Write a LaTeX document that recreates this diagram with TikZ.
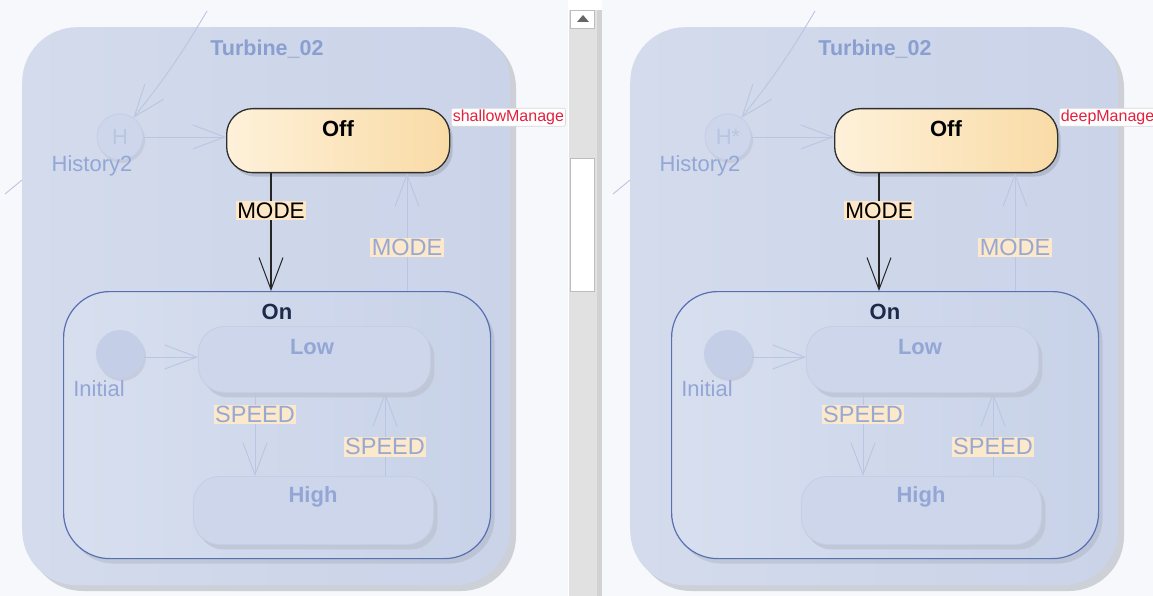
\documentclass[tikz,border=0pt]{standalone}
\usepackage{fontspec}
\setmainfont{Liberation Sans}
\usetikzlibrary{arrows.meta,shadows}
\definecolor{pagebg}{HTML}{F7F8FC}
\definecolor{outerL}{HTML}{D3DBEC}
\definecolor{outerR}{HTML}{CAD3E8}
\definecolor{outershadow}{HTML}{CDD0D7}
\definecolor{titlecol}{HTML}{8A9FD0}
\definecolor{offL}{HTML}{FEF1DA}
\definecolor{offR}{HTML}{F9DBA6}
\definecolor{offborder}{HTML}{2E2E2E}
\definecolor{onL}{HTML}{D7DFEF}
\definecolor{onR}{HTML}{C8D2E8}
\definecolor{onborder}{HTML}{5870B2}
\definecolor{ontext}{HTML}{1E2A4A}
\definecolor{fadefill}{HTML}{CDD6EA}
\definecolor{initfill}{HTML}{C4CEE7}
\definecolor{fadeborder}{HTML}{C4CEE4}
\definecolor{fadeshadow}{HTML}{BEC6D6}
\definecolor{fadetext}{HTML}{93A6D6}
\definecolor{fadeline}{HTML}{B9C6E2}
\definecolor{lblbg}{HTML}{FEE7C6}
\definecolor{fadelblbg}{HTML}{FCE8CB}
\definecolor{fadelbltext}{HTML}{97A8D3}
\definecolor{notered}{HTML}{E3203E}
\definecolor{track}{HTML}{E1E1E1}
\definecolor{trackdark}{HTML}{D2D2D2}
\definecolor{thumbborder}{HTML}{BDBDBD}
\tikzset{
  lab/.style={font=\fontsize{22.5}{25}\selectfont},
  outerbox/.style={rectangle, rounded corners=55pt, left color=outerL, right color=outerR, draw=none, inner sep=0pt},
  titletext/.style={font=\fontsize{21.5}{24}\selectfont\bfseries, text=titlecol},
  offbox/.style={rectangle, rounded corners=26pt, left color=offL, right color=offR, draw=offborder, line width=1.3pt, inner sep=0pt,
    drop shadow={shadow xshift=3pt, shadow yshift=-4pt, fill=black, opacity=0.12}},
  onbox/.style={rectangle, rounded corners=46pt, left color=onL, right color=onR, draw=onborder, line width=1.2pt, inner sep=0pt,
    drop shadow={shadow xshift=4pt, shadow yshift=-5pt, fill=black, opacity=0.08}},
  fadebox/.style={rectangle, rounded corners=26pt, fill=fadefill, draw=fadeborder, line width=0.8pt, inner sep=0pt,
    drop shadow={shadow xshift=4pt, shadow yshift=-5pt, fill=fadeshadow, opacity=0.9}},
  statetext/.style={font=\fontsize{22}{24}\selectfont\bfseries},
  fadetxt/.style={font=\fontsize{22}{24}\selectfont, text=fadetext},
  lbl/.style={lab, fill=lblbg, text=black, inner sep=1.5pt},
  fadelbl/.style={font=\fontsize{23.5}{26}\selectfont, fill=fadelblbg, text=fadelbltext, inner sep=1.5pt},
  solidarrow/.style={draw=black!85, line width=1.3pt, -{Straight Barb[length=32pt, width=24pt, line width=1pt]}},
  fadearrow/.style={draw=fadeline, line width=0.9pt, -{Straight Barb[length=32pt, width=24pt, line width=0.9pt]}},
  fadeplain/.style={draw=fadeline, line width=0.9pt},
  notebox/.style={rectangle, rounded corners=2pt, fill=white, draw=black!15, line width=0.6pt, inner sep=1.5pt,
    font=\fontsize{16}{18}\selectfont, text=notered, anchor=north west},
}
\newcommand\drawpanel[4]{%
\begin{scope}[xshift=#2pt]
  \fill[outershadow, rounded corners=55pt] (28,33) rectangle (516,591);
  \node[outerbox, minimum width=488pt, minimum height=558pt, anchor=north west] (outer#1) at (22,27) {};
  \node[titletext] (title#1) at (267,49) {Turbine\_02};
  % history pseudostate
  \node[circle, minimum size=46pt, inner sep=0pt, fill=fadefill, draw=fadeborder, line width=0.8pt,
        drop shadow={shadow xshift=2pt, shadow yshift=-3pt, fill=fadeshadow, opacity=0.7},
        font=\fontsize{22}{24}\selectfont, text=fadeline] (hist#1) at (120,137) {#3};
  \node[fadetxt] (histlbl#1) at (92,166) {History2};
  \coordinate (topin#1) at (207,11);
  \draw[fadearrow] (topin#1) to[bend left=4] (hist#1.55);
  \coordinate (ls#1) at (5,194);
  \coordinate (le#1) at (22,180);
  \draw[fadeplain] (ls#1) -- (le#1);
  % Off state
  \node[offbox, minimum width=223pt, minimum height=64pt, anchor=north west] (off#1) at (226,108) {};
  \node[statetext, text=black] (offt#1) at (338,129) {Off};
  \node[notebox] (note#1) at (451,108) {#4};
  \draw[fadearrow] (hist#1.east) -- (off#1.west |- hist#1.east);
  % On state
  \node[onbox, minimum width=427pt, minimum height=267pt, anchor=north west] (on#1) at (63,291) {};
  \node[statetext, text=ontext] (ont#1) at (277,312) {On};
  % inner states
  \node[fadebox, minimum width=232pt, minimum height=66pt, anchor=north west] (low#1) at (198,326) {};
  \node[statetext, text=fadetext] (lowt#1) at (312,347) {Low};
  \node[fadebox, minimum width=240pt, minimum height=68pt, anchor=north west] (high#1) at (193,476) {};
  \node[statetext, text=fadetext] (hight#1) at (313,497) {High};
  \node[circle, minimum size=48pt, inner sep=0pt, fill=initfill, draw=none,
        drop shadow={shadow xshift=2pt, shadow yshift=-3pt, fill=fadeshadow, opacity=0.7}] (init#1) at (120,354) {};
  \node[fadetxt] (initlbl#1) at (99,389) {Initial};
  \draw[fadearrow] (init#1.east |- 0,357) -- (low#1.west |- 0,357);
  % transitions
  \draw[fadearrow] ([xshift=57pt]low#1.south west) -- node[fadelbl, pos=0.26] (sp1#1) {SPEED} ([xshift=62pt]high#1.north west);
  \draw[fadearrow] ([xshift=192pt]high#1.north west) -- node[fadelbl, pos=0.35] (sp2#1) {SPEED} ([xshift=187pt]low#1.south west);
  \draw[fadearrow] ([xshift=344pt]on#1.north west) -- node[fadelbl, pos=0.37] (md2#1) {MODE} ([xshift=181pt]off#1.south west);
  \draw[solidarrow] ([xshift=45pt]off#1.south west) -- node[lbl, pos=0.32] (md1#1) {MODE} ([xshift=208pt]on#1.north west);
\end{scope}}
\begin{document}
\begin{tikzpicture}[x=1pt,y=-1pt]
\useasboundingbox (0,0) rectangle (1153,596);
\clip (0,0) rectangle (1153,596);
\fill[pagebg] (0,0) rectangle (1153,596);
\drawpanel{L}{0}{H}{shallowManage}
\drawpanel{R}{608}{H*}{deepManage}
% scrollbar
\fill[white] (568,0) rectangle (602,596);
\fill[track] (569,10) rectangle (598,596);
\fill[trackdark] (597,10) rectangle (602,596);
\node[rectangle, fill=white, draw=thumbborder, line width=0.6pt, minimum width=24pt, minimum height=18pt, inner sep=0pt, anchor=north west] (upbtn) at (570,10) {};
\fill[black!60] (577,22) -- (589,22) -- (583,15) -- cycle;
\node[rectangle, fill=white, draw=thumbborder, line width=0.8pt, minimum width=24pt, minimum height=133pt, inner sep=0pt, anchor=north west] (thumb) at (570,158) {};
\end{tikzpicture}
\end{document}
